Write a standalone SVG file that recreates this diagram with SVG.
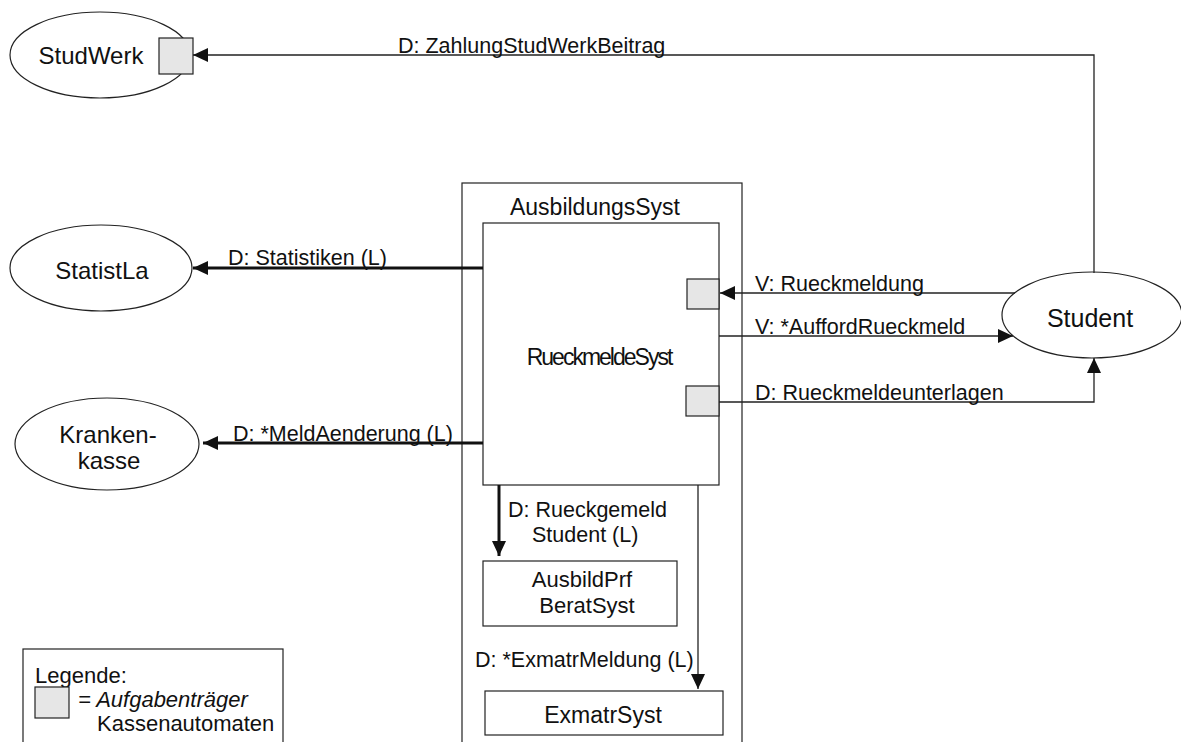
<svg xmlns="http://www.w3.org/2000/svg" width="1181" height="742" viewBox="0 0 1181 742">
<style>
  .bg{fill:#ffffff}
  .ell{fill:#ffffff;stroke:#222;stroke-width:1.2}
  .box{fill:#ffffff;stroke:#222;stroke-width:1.2}
  .sq{fill:#e6e6e6;stroke:#222;stroke-width:1.2}
  .node{font-family:"Liberation Sans",Arial,sans-serif;font-size:24px;fill:#111;text-anchor:middle}
  .lbl{font-family:"Liberation Sans",Arial,sans-serif;font-size:21.5px;fill:#111}
  .leg{font-family:"Liberation Sans",Arial,sans-serif;font-size:22px;fill:#111}
  .thin{fill:none;stroke:#222;stroke-width:1.3}
  .thick{fill:none;stroke:#111;stroke-width:3}
</style>
<defs>
  <marker id="arr" viewBox="0 0 15 14" refX="15" refY="7" markerWidth="15" markerHeight="14" markerUnits="userSpaceOnUse" orient="auto">
    <path d="M0,0 L15,7 L0,14 z" fill="#111"/>
  </marker>
</defs>
<rect class="bg" x="0" y="0" width="1181" height="742"/>

<g id="AusbildungsSyst">
  <rect class="box" x="462" y="183" width="280" height="570"/>
  <text class="node" x="595" y="215" style="font-size:23px">AusbildungsSyst</text>
</g>
<g id="RueckmeldeSyst">
  <rect class="box" x="483" y="223" width="236" height="262"/>
  <text class="node" x="599" y="365" style="font-size:23px;letter-spacing:-2px">RueckmeldeSyst</text>
  <rect class="sq" x="687" y="279" width="32" height="30"/>
  <rect class="sq" x="686" y="386" width="33" height="30"/>
</g>
<g id="AusbildPrfBeratSyst">
  <rect class="box" x="483" y="561" width="194" height="65"/>
  <text class="node" x="582" y="587" style="font-size:22px">AusbildPrf</text>
  <text class="node" x="587" y="613" style="font-size:22px">BeratSyst</text>
</g>
<g id="ExmatrSyst">
  <rect class="box" x="485" y="691" width="238" height="44"/>
  <text class="node" x="603" y="723" style="font-size:23px">ExmatrSyst</text>
</g>
<g id="StudWerk">
  <ellipse class="ell" cx="100" cy="55" rx="90" ry="43"/>
  <text class="node" x="91" y="64">StudWerk</text>
  <rect class="sq" x="159" y="38" width="34" height="36"/>
</g>
<g id="StatistLa">
  <ellipse class="ell" cx="101" cy="268" rx="91" ry="43"/>
  <text class="node" x="102" y="279">StatistLa</text>
</g>
<g id="Krankenkasse">
  <ellipse class="ell" cx="107" cy="444" rx="92" ry="46"/>
  <text class="node" x="108" y="443">Kranken-</text>
  <text class="node" x="109" y="469">kasse</text>
</g>
<g id="Student">
  <ellipse class="ell" cx="1092" cy="315" rx="90" ry="43"/>
  <text class="node" x="1090" y="327" style="font-size:25px">Student</text>
</g>
<g id="Legende">
  <rect class="box" x="23" y="649" width="260" height="100"/>
  <text class="leg" x="35" y="683">Legende:</text>
  <rect class="sq" x="35" y="687" width="34" height="31"/>
  <text class="leg" x="78" y="707" style="font-style:italic">= Aufgabenträger</text>
  <text class="leg" x="97" y="731">Kassenautomaten</text>
</g>

<g id="connectors">
  <polyline class="thin" points="1094,273 1094,55 193,55" marker-end="url(#arr)"/>
  <text class="lbl" x="398" y="53">D: ZahlungStudWerkBeitrag</text>

  <line class="thick" x1="483" y1="268" x2="193" y2="268" marker-end="url(#arr)"/>
  <text class="lbl" x="228" y="265">D: Statistiken (L)</text>

  <line class="thick" x1="483" y1="443" x2="203" y2="443" marker-end="url(#arr)"/>
  <text class="lbl" x="233" y="441">D: *MeldAenderung (L)</text>

  <line class="thin" x1="1015" y1="293" x2="720" y2="293" marker-end="url(#arr)"/>
  <text class="lbl" x="755" y="291">V: Rueckmeldung</text>

  <line class="thin" x1="719" y1="336" x2="1013" y2="336" marker-end="url(#arr)"/>
  <text class="lbl" x="755" y="334">V: *AuffordRueckmeld</text>

  <polyline class="thin" points="719,402 1094,402 1094,358" marker-end="url(#arr)"/>
  <text class="lbl" x="755" y="400">D: Rueckmeldeunterlagen</text>

  <line class="thick" x1="499" y1="485" x2="499" y2="556" marker-end="url(#arr)"/>
  <text class="lbl" x="508" y="517">D: Rueckgemeld</text>
  <text class="lbl" x="532" y="542">Student (L)</text>

  <line class="thin" x1="698" y1="485" x2="698" y2="689" marker-end="url(#arr)"/>
  <text class="lbl" x="475" y="667">D: *ExmatrMeldung (L)</text>
</g>
</svg>
